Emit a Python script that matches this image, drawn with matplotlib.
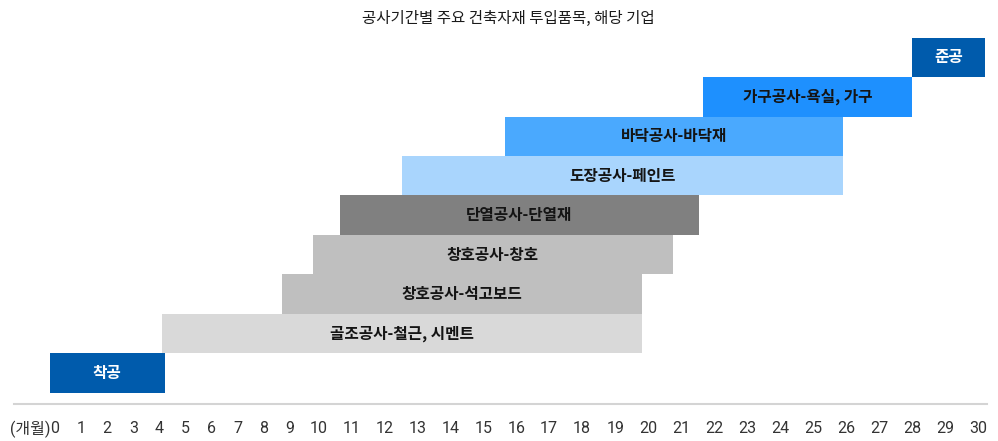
import numpy as np
import matplotlib
matplotlib.use('Agg')
import matplotlib.pyplot as plt

# ---------------- data ----------------
tasks = ['착공', '골조공사-철근, 시멘트', '창호공사-석고보드', '창호공사-창호',
         '단열공사-단열재', '도장공사-페인트', '바닥공사-바닥재',
         '가구공사-욕실, 가구', '준공']
start_month = [-0.2, 4.1, 8.7, 9.8, 10.65, 12.55, 15.65, 21.65, 28.0]
end_month = [4.2, 19.8, 19.8, 20.75, 21.55, 25.9, 25.9, 28.0, 30.2]
month_ticks = list(range(0, 31))
month_labels = [str(m) for m in month_ticks]
unit_label = '(개월)'
title = '공사기간별 주요 건축자재 투입품목, 해당 기업'

# ---------------- styles ----------------
bar_colors = ['#005bac', '#d9d9d9', '#bfbfbf', '#bfbfbf', '#808080',
              '#a9d5fd', '#4aa9fe', '#1e90fe', '#005bac']
text_colors = ['white', '#141414', '#141414', '#141414', '#141414',
               '#141414', '#141414', '#141414', 'white']

KR = ['Noto Sans CJK KR', 'DejaVu Sans']
NUM = ['Roboto', 'Noto Sans CJK KR', 'DejaVu Sans']
plt.rcParams['font.family'] = KR

# piecewise-linear month axis (labels in the original are spaced like text:
# narrower for one-digit months, wider for two-digit months)
_SM = np.array([0.0, 9.0, 10.0, 30.0])
_SP = np.array([55.0, 290.0, 318.3, 978.0])
_s0 = (_SP[1] - _SP[0]) / (_SM[1] - _SM[0])
_s1 = (_SP[-1] - _SP[-2]) / (_SM[-1] - _SM[-2])


def fwd(m):
    m = np.asarray(m, dtype=float)
    out = np.interp(m, _SM, _SP)
    out = np.where(m < _SM[0], _SP[0] + (m - _SM[0]) * _s0, out)
    out = np.where(m > _SM[-1], _SP[-1] + (m - _SM[-1]) * _s1, out)
    return out


def inv(p):
    p = np.asarray(p, dtype=float)
    out = np.interp(p, _SP, _SM)
    out = np.where(p < _SP[0], _SM[0] + (p - _SP[0]) / _s0, out)
    out = np.where(p > _SP[-1], _SM[-1] + (p - _SP[-1]) / _s1, out)
    return out


W, H = 998, 441
fig = plt.figure(figsize=(W / 100, H / 100), dpi=100)
ax_left, ax_right = 14, 987
ax_bottom, ax_top = 404.3, 37.7
ax = fig.add_axes([ax_left / W, (H - ax_bottom) / H,
                   (ax_right - ax_left) / W, (ax_bottom - ax_top) / H])
ax.set_xscale('function', functions=(fwd, inv))
ax.set_xlim(float(inv(ax_left)), float(inv(ax_right)))
row_h = (392.7 - 37.7) / 9
ax.set_ylim(-0.5 - (ax_bottom - 392.7) / row_h, 8.5)

ys = np.arange(len(tasks))
widths = np.array(end_month) - np.array(start_month)
ax.barh(ys, widths, left=start_month, height=1.0, color=bar_colors,
        edgecolor='none', linewidth=0)

for y, s, e, lab, tc in zip(ys, start_month, end_month, tasks, text_colors):
    mid = float(inv((fwd(s) + fwd(e)) / 2))
    ax.text(mid, y, lab, ha='center', va='center', color=tc,
            fontsize=11.3, fontweight='bold', family=KR)

for sp in ['top', 'left', 'right']:
    ax.spines[sp].set_visible(False)
ax.spines['bottom'].set_color('#d4d4d4')
ax.spines['bottom'].set_linewidth(1.5)
ax.set_yticks([])
ax.set_xticks(month_ticks)
ax.set_xticklabels(month_labels, family=NUM, fontsize=11.5, color='#333333')
ax.tick_params(axis='x', length=0, pad=12)
ax.xaxis.set_minor_locator(matplotlib.ticker.NullLocator())

ax.annotate(unit_label, xy=(0, 0), xycoords=('data', 'axes fraction'),
            xytext=(-3, -12), textcoords='offset points',
            ha='right', va='top', family=NUM, fontsize=11.5, color='#333333')

fig.text(508 / W, 1 - 18 / H, title, ha='center', va='center',
         fontsize=11.2, color='#1a1a1a', family=KR)

fig.savefig('out.png', dpi=100)
